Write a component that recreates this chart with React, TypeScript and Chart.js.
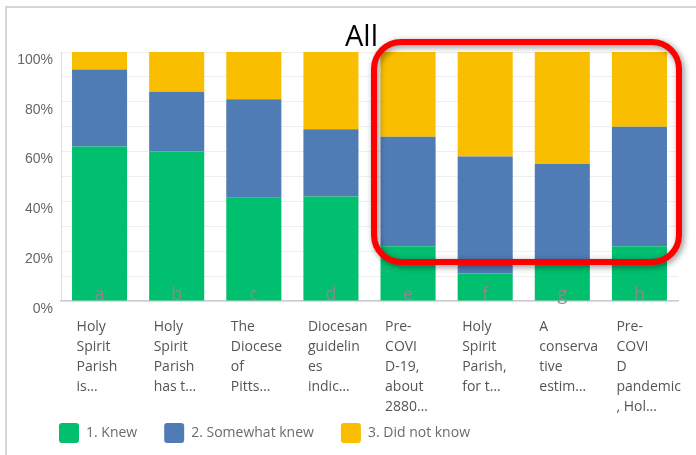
import { useEffect, useRef } from "react";
import { Chart, registerables } from "chart.js";

Chart.register(...registerables);

const categories: string[][] = [
  ["Holy", "Spirit", "Parish", "is…"],
  ["Holy", "Spirit", "Parish", "has t…"],
  ["The", "Diocese", "of", "Pitts…"],
  ["Diocesan", "guidelin", "es", "indic…"],
  ["Pre-", "COVI", "D-19,", "about", "2880…"],
  ["Holy", "Spirit", "Parish,", "for t…"],
  ["A", "conserva", "tive", "estim…"],
  ["Pre-", "COVI", "D", "pandemic", ", Hol…"],
];
const barLetters = ["a", "b", "c", "d", "e", "f", "g", "h"];
const knew = [62, 60, 41.5, 42, 22, 11, 15, 22];
const somewhatKnew = [31, 24, 39.5, 27, 44, 47, 40, 48];
const didNotKnow = [7, 16, 19, 31, 34, 42, 45, 30];
const seriesNames = ["1. Knew", "2. Somewhat knew", "3. Did not know"];
const seriesColors = ["#00BF6F", "#507CB6", "#F9BE00"];
const titleText = "All";

const letterPlugin = {
  id: "barLetters",
  afterLayout(chart: any) {
    // let the wrapped category labels overflow into the legend band, and
    // line the legend up with the y-axis labels as in the reference
    const x = chart.scales.x;
    if (x) x.bottom += 26;
    const lg = chart.legend;
    if (lg) {
      lg.left += 16;
      lg.right += 16;
    }
  },
  afterDatasetsDraw(chart: any) {
    const { ctx, scales } = chart;
    const x = scales.x;
    const y = scales.y;
    ctx.save();
    ctx.font = "18px 'Open Sans'";
    ctx.fillStyle = "#8a8a8a";
    ctx.textAlign = "center";
    ctx.textBaseline = "alphabetic";
    barLetters.forEach((l, i) => {
      ctx.fillText(l, x.getPixelForValue(i), y.getPixelForValue(0) - 1);
    });
    ctx.restore();
  },
};

export default function App() {
  const ref = useRef<HTMLCanvasElement>(null);
  useEffect(() => {
    if (!ref.current) return;
    const chart = new Chart(ref.current, {
      type: "bar",
      data: {
        labels: categories,
        datasets: [knew, somewhatKnew, didNotKnow].map((d, i) => ({
          label: seriesNames[i],
          data: d,
          backgroundColor: seriesColors[i],
          borderWidth: 0,
          barPercentage: 0.714,
          categoryPercentage: 1,
        })),
      },
      options: {
        animation: false,
        responsive: false,
        maintainAspectRatio: false,
        layout: { padding: { left: 16, top: 52, right: 18, bottom: 2 } },
        plugins: {
          legend: {
            position: "bottom",
            align: "start",
            labels: {
              boxWidth: 20,
              boxHeight: 20,
              padding: 27,
              useBorderRadius: true,
              borderRadius: 3,
              color: "#6b6b6b",
              font: { family: "'Open Sans'", size: 14 },
            },
          },
          tooltip: { enabled: false },
        },
        scales: {
          x: {
            stacked: true,
            grid: { display: false, drawTicks: false },
            border: { display: true, color: "#cccccc", width: 1.5 },
            ticks: {
              autoSkip: false,
              maxRotation: 0,
              minRotation: 0,
              align: "start",
              labelOffset: -23,
              padding: 16,
              color: "#555555",
              font: { family: "'Open Sans'", size: 14, lineHeight: "20px" },
            },
            afterFit: (s: any) => {
              s.height = 95;
              s.paddingLeft = 0;
              s.paddingRight = 0;
            },
          },
          y: {
            stacked: true,
            min: 0,
            max: 100,
            grid: { color: "#eeeeee", drawTicks: false },
            border: { display: true, color: "#dddddd" },
            ticks: {
              stepSize: 10,
              padding: 8,
              labelOffset: 8,
              color: "#666666",
              font: { family: "'Liberation Sans'", size: 14 },
              callback: (v: any) => (Number(v) % 20 === 0 ? v + "%" : ""),
            },
            afterFit: (s: any) => {
              s.width = 45;
            },
          },
        },
      },
      plugins: [letterPlugin],
    });
    return () => chart.destroy();
  }, []);

  return (
    <div
      style={{
        position: "absolute",
        left: 0,
        top: 0,
        width: 696,
        height: 455,
        overflow: "hidden",
        background: "#ffffff",
      }}
    >
      <div
        style={{
          position: "absolute",
          left: 5,
          top: 6,
          width: 720,
          height: 480,
          border: "2px solid #d6d6d6",
        }}
      />
      <canvas
        ref={ref}
        width={696}
        height={455}
        style={{ position: "absolute", left: 0, top: 0, width: 696, height: 455 }}
      />
      <div
        style={{
          position: "absolute",
          left: 345,
          top: 15,
          fontFamily: "'Open Sans'",
          fontSize: 29,
          lineHeight: "40px",
          color: "#000",
        }}
      >
        {titleText}
      </div>
      <div
        style={{
          position: "absolute",
          left: 371,
          top: 39,
          width: 311,
          height: 226,
          boxSizing: "border-box",
          border: "6px solid #ff0000",
          borderRadius: 30,
          filter: "drop-shadow(2px 2px 3px rgba(0,0,0,0.45))",
        }}
      />
    </div>
  );
}
